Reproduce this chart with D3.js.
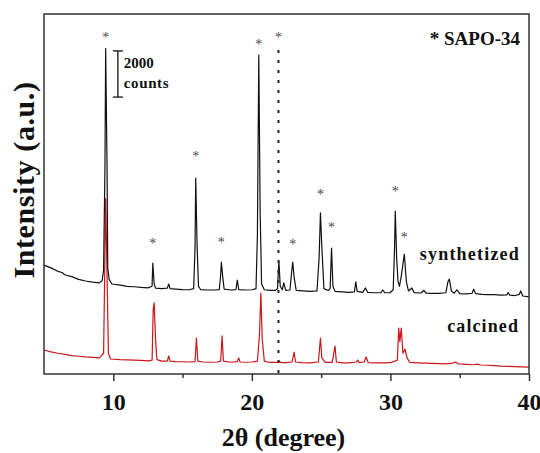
<!DOCTYPE html>
<html><head><meta charset="utf-8">
<script src="https://cdn.jsdelivr.net/npm/d3@7"></script>
<style>
html,body{margin:0;padding:0;background:#fff;}
</style></head>
<body><svg id="chart" width="540" height="453"></svg>
<script>
// ---- data (2θ in degrees, intensity in counts, offset traces) ----
const synthetized = [
[5.0,4720],[5.5,4600],[6.0,4450],[6.3,4400],[6.5,4300],[7.0,4220],[7.5,4100],[8.0,4030],[8.5,3980],[9.0,3950],
[9.2,4050],[9.3,4500],[9.4,9000],[9.45,14100],[9.55,9000],[9.6,4600],[9.7,4100],[9.9,3900],
[10.5,3850],[11.0,3800],[11.5,3780],[12.0,3750],[12.5,3730],[12.8,3800],[12.85,4810],[12.95,3900],[13.05,3720],
[13.5,3700],[13.9,3720],[14.0,3900],[14.1,3700],[14.5,3680],[15.0,3660],[15.5,3650],[15.8,3700],
[15.9,5500],[15.95,8490],[16.05,5500],[16.15,3800],[16.3,3660],[16.8,3640],[17.3,3640],[17.65,3660],
[17.75,4300],[17.8,4850],[17.9,4200],[18.0,3680],[18.5,3640],[18.85,3660],[18.95,4070],[19.05,3660],
[19.5,3640],[20.0,3650],[20.3,3700],[20.4,6000],[20.5,13820],[20.6,7000],[20.7,3900],[20.9,3650],
[21.3,3620],[21.7,3620],[21.85,3700],[21.95,4890],[22.05,3800],[22.2,3650],[22.3,3950],[22.45,3620],
[22.75,3640],[22.85,4300],[22.95,4850],[23.05,4200],[23.2,3620],[23.7,3600],[24.2,3580],[24.7,3600],
[24.85,5000],[24.95,6980],[25.05,5500],[25.2,3700],[25.5,3620],[25.65,3700],[25.75,5460],[25.85,3800],
[26.0,3580],[26.5,3560],[27.0,3540],[27.4,3560],[27.5,3990],[27.6,3580],[28.0,3540],[28.2,3730],[28.35,3540],
[28.8,3520],[29.3,3520],[29.45,3640],[29.6,3520],[30.0,3530],[30.2,3650],[30.3,5500],[30.35,7060],[30.45,5000],
[30.55,4000],[30.65,3800],[30.8,4300],[31.0,5200],[31.15,4000],[31.3,3600],[31.55,3730],[31.7,3530],
[32.2,3510],[32.4,3620],[32.6,3500],[33.0,3490],[33.5,3490],[34.0,3520],[34.15,4000],[34.25,4110],[34.4,3600],
[34.6,3500],[34.8,3650],[35.0,3480],[35.5,3470],[35.9,3500],[36.0,3680],[36.15,3480],[36.6,3450],[37.0,3440],
[37.5,3440],[38.0,3420],[38.4,3430],[38.5,3530],[38.6,3420],[39.0,3400],[39.3,3450],[39.4,3600],[39.55,3380],[40.0,3340]
];
const calcined = [
[5.0,1040],[5.5,960],[6.0,900],[6.5,850],[7.0,800],[7.5,770],[8.0,740],[8.5,720],[9.0,700],[9.3,900],
[9.38,4300],[9.45,7600],[9.55,4300],[9.65,900],[9.8,650],[10.0,640],[10.5,620],[11.0,610],[11.5,600],[12.0,590],
[12.5,570],[12.8,600],[12.88,2800],[12.95,3080],[13.05,1500],[13.15,620],[13.5,560],[13.9,560],[14.0,780],[14.1,560],
[14.5,540],[15.0,530],[15.5,520],[15.9,540],[16.0,1560],[16.1,560],[16.5,520],[17.0,510],[17.5,520],[17.75,560],
[17.85,1650],[17.95,560],[18.5,510],[18.95,540],[19.05,700],[19.15,520],[19.6,510],[20.0,520],[20.4,560],
[20.55,1700],[20.65,3510],[20.75,1500],[20.9,560],[21.3,500],[21.9,500],[22.0,560],[22.1,490],[22.5,490],
[22.9,520],[23.05,950],[23.15,520],[23.6,490],[24.2,480],[24.8,520],[24.95,1560],[25.05,700],[25.3,500],
[25.8,500],[26.0,1210],[26.1,520],[26.5,480],[27.0,480],[27.55,520],[27.65,607],[27.75,490],[28.1,520],
[28.25,740],[28.4,490],[29.0,480],[29.5,480],[30.0,490],[30.5,600],[30.6,1990],[30.68,1400],[30.78,1990],
[30.9,900],[31.05,1080],[31.2,700],[31.4,500],[32.0,480],[32.5,470],[33.0,460],[33.5,450],[34.0,440],
[34.5,470],[34.7,520],[34.9,440],[35.5,420],[36.0,400],[36.3,430],[36.5,390],[37.0,380],[37.5,360],
[38.0,340],[38.5,330],[39.0,320],[39.5,310],[40.0,300]
];
const starMarks = [[9.45,14646],[12.85,5720],[15.95,9489],[17.8,5763],[20.5,14342],[21.92,14646],
[22.95,5676],[24.95,7843],[25.75,6413],[30.35,7973],[31.0,5980]];
const majorTicks = [10,20,30,40];
const minorTicks = [15,25,35];
const dottedAt = 21.92;
const dottedTop = 14040;
const scaleBarAt = 10.33;
const scaleBarCounts = [12000,14000];
const scaleBarLabel = ["2000","counts"];
const legendLabel = "* SAPO-34";
const seriesLabels = ["synthetized","calcined"];
const xTitle = "2θ (degree)";
const yTitle = "Intensity (a.u.)";

const SERIF = "'Liberation Serif','Times New Roman','DejaVu Serif','Noto Serif',serif";

// ---- layout ----
const svg = d3.select("#chart");
const L=44, R=529, T=14, B=374;
const x = d3.scaleLinear().domain([5,40]).range([L,R]);
const y = d3.scaleLinear().domain([0,15600]).range([B,T]);

const line = d3.line().x(d=>x(d[0])).y(d=>y(d[1]));

function txt(sel){ return sel.style("font-family",SERIF).style("font-weight","bold"); }

svg.append("path").datum(calcined).attr("d",line)
  .attr("fill","none").attr("stroke","#c8161b").attr("stroke-width",1.2).attr("stroke-linejoin","round");
svg.append("path").datum(synthetized).attr("d",line)
  .attr("fill","none").attr("stroke","#111").attr("stroke-width",1.2).attr("stroke-linejoin","round");

// dotted line
svg.append("line").attr("x1",x(dottedAt)).attr("x2",x(dottedAt)).attr("y1",y(dottedTop)).attr("y2",B)
  .attr("stroke","#222").attr("stroke-width",2).attr("stroke-dasharray","3,7");

// stars
svg.selectAll("text.star").data(starMarks).enter().append("text").attr("class","star")
  .attr("x",d=>x(d[0])).attr("y",d=>y(d[1])+6).attr("text-anchor","middle")
  .attr("font-size",14).attr("fill","#4a4a4a")
  .style("font-family",SERIF).style("font-weight","normal").text("*");

// frame
svg.append("rect").attr("x",L).attr("y",T).attr("width",R-L).attr("height",B-T)
  .attr("fill","none").attr("stroke","#333").attr("stroke-width",1.5);

// x axis
const ax = svg.append("g").attr("transform",`translate(0,${B})`)
  .call(d3.axisBottom(x).tickValues(majorTicks).tickSize(7).tickPadding(12).tickFormat(d3.format("d")));
ax.select(".domain").remove();
ax.selectAll("line").attr("stroke","#333").attr("stroke-width",1.5);
txt(ax.selectAll("text")).attr("font-size",24).attr("fill","#111");
ax.attr("font-family",null);
const axm = svg.append("g").attr("transform",`translate(0,${B})`)
  .call(d3.axisBottom(x).tickValues(minorTicks).tickSize(4).tickFormat(""));
axm.select(".domain").remove();
axm.selectAll("line").attr("stroke","#333").attr("stroke-width",1.5);

// titles
txt(svg.append("text")).attr("x",(L+R)/2-3).attr("y",446).attr("text-anchor","middle")
  .attr("font-size",26).attr("fill","#111").text(xTitle);
txt(svg.append("text")).attr("transform",`translate(34,180) rotate(-90)`).attr("text-anchor","middle")
  .attr("font-size",30).attr("letter-spacing",0.6).attr("fill","#111").text(yTitle);

// scale bar
const sx = x(scaleBarAt);
const sb = svg.append("g").attr("stroke","#222").attr("stroke-width",1.4);
sb.append("line").attr("x1",sx).attr("x2",sx).attr("y1",y(scaleBarCounts[0])).attr("y2",y(scaleBarCounts[1]));
sb.append("line").attr("x1",sx-5).attr("x2",sx+5).attr("y1",y(scaleBarCounts[0])).attr("y2",y(scaleBarCounts[0]));
sb.append("line").attr("x1",sx-5).attr("x2",sx+5).attr("y1",y(scaleBarCounts[1])).attr("y2",y(scaleBarCounts[1]));
txt(svg.append("text")).attr("x",sx+6).attr("y",68).attr("font-size",15).attr("fill","#111").text(scaleBarLabel[0]);
txt(svg.append("text")).attr("x",sx+6).attr("y",88).attr("font-size",15).attr("letter-spacing",0.6).attr("fill","#111").text(scaleBarLabel[1]);

// legend & labels
txt(svg.append("text")).attr("x",520).attr("y",45).attr("text-anchor","end")
  .attr("font-size",19).attr("fill","#111").text(legendLabel);
txt(svg.append("text")).attr("x",520).attr("y",260).attr("text-anchor","end")
  .attr("font-size",18).attr("letter-spacing",1.2).attr("fill","#111").text(seriesLabels[0]);
txt(svg.append("text")).attr("x",519).attr("y",332).attr("text-anchor","end")
  .attr("font-size",18).attr("letter-spacing",1.1).attr("fill","#111").text(seriesLabels[1]);
</script></body></html>
